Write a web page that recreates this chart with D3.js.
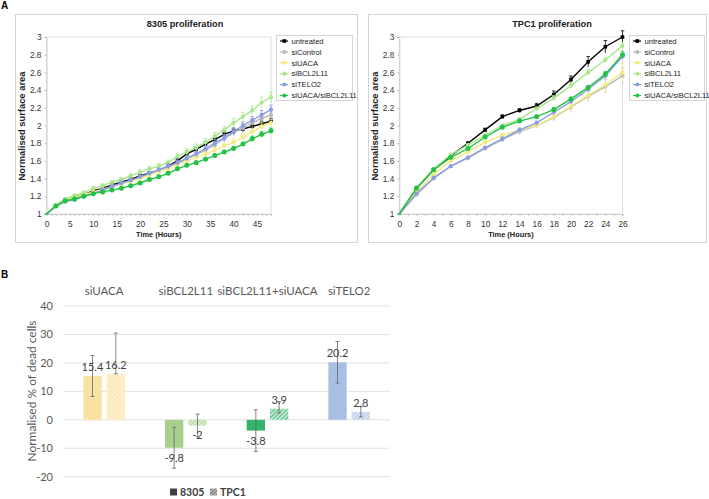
<!DOCTYPE html>
<html><head><meta charset="utf-8">
<script src="https://cdn.jsdelivr.net/npm/d3@7"></script>
<style>body{margin:0;background:#fff}svg{display:block}</style>
</head><body>
<script>
// ---------- Panel A data ----------
const seriesNames = ["untreated","siControl","siUACA","siBCL2L11","siTELO2","siUACA/siBCL2L11"];
const seriesColors = ["#000000","#b8b8b8","#f2ec7e","#a9e78c","#8a9de4","#22c244"];
const hours8305 = [0,2,4,6,8,10,12,14,16,18,20,22,24,26,28,30,32,34,36,38,40,42,44,46,48];
const untreated8305 = [1,1.09,1.15,1.19,1.22,1.26,1.29,1.33,1.36,1.39,1.43,1.46,1.49,1.54,1.60,1.68,1.73,1.79,1.84,1.90,1.94,1.96,1.99,2.02,2.05];
const siControl8305 = [1,1.09,1.15,1.18,1.21,1.24,1.27,1.31,1.34,1.38,1.41,1.45,1.49,1.53,1.57,1.62,1.67,1.72,1.78,1.85,1.92,1.97,2.03,2.08,2.12];
const siUACA8305 = [1,1.10,1.16,1.19,1.22,1.25,1.28,1.31,1.34,1.37,1.40,1.44,1.48,1.51,1.56,1.60,1.64,1.68,1.72,1.77,1.81,1.87,1.93,1.99,2.03];
const siBCL2L118305 = [1,1.10,1.17,1.21,1.24,1.29,1.32,1.36,1.39,1.43,1.47,1.51,1.54,1.58,1.65,1.70,1.75,1.81,1.88,1.95,2.03,2.10,2.17,2.26,2.32];
const siTELO28305 = [1,1.09,1.14,1.16,1.20,1.23,1.27,1.31,1.35,1.38,1.42,1.46,1.50,1.54,1.58,1.63,1.68,1.74,1.80,1.86,1.93,2.00,2.06,2.12,2.18];
const combo8305 = [1,1.09,1.15,1.17,1.20,1.23,1.25,1.27,1.29,1.32,1.35,1.39,1.42,1.46,1.51,1.55,1.58,1.62,1.66,1.70,1.74,1.79,1.85,1.90,1.94];
const err8305 = [
  [0,0.01,0.01,0.01,0.01,0.02,0.02,0.02,0.02,0.02,0.02,0.02,0.02,0.03,0.03,0.03,0.03,0.03,0.03,0.03,0.03,0.03,0.03,0.03,0.03],
  [0,0.01,0.01,0.01,0.01,0.01,0.02,0.02,0.02,0.02,0.02,0.02,0.02,0.02,0.03,0.03,0.03,0.03,0.04,0.04,0.04,0.05,0.05,0.05,0.05],
  [0,0.01,0.01,0.01,0.01,0.01,0.01,0.02,0.02,0.02,0.02,0.02,0.02,0.02,0.02,0.03,0.03,0.03,0.03,0.03,0.04,0.04,0.04,0.04,0.04],
  [0,0.01,0.01,0.01,0.02,0.02,0.02,0.02,0.02,0.03,0.03,0.03,0.03,0.03,0.03,0.04,0.04,0.04,0.04,0.04,0.05,0.05,0.05,0.06,0.06],
  [0,0.01,0.01,0.01,0.01,0.01,0.02,0.02,0.02,0.02,0.02,0.02,0.02,0.03,0.03,0.03,0.03,0.03,0.04,0.04,0.04,0.04,0.04,0.05,0.05],
  [0,0.01,0.01,0.01,0.01,0.01,0.01,0.01,0.01,0.01,0.01,0.02,0.02,0.02,0.02,0.02,0.02,0.02,0.02,0.02,0.02,0.02,0.03,0.03,0.03]
];
const hoursTPC1 = [0,2,4,6,8,10,12,14,16,18,20,22,24,26];
const untreatedTPC1 = [1,1.29,1.50,1.66,1.80,1.95,2.10,2.17,2.22,2.35,2.52,2.72,2.89,3.0];
const siControlTPC1 = [1,1.22,1.40,1.54,1.63,1.74,1.84,1.93,2.00,2.09,2.21,2.33,2.44,2.56];
const siUACATPC1 = [1,1.25,1.45,1.60,1.70,1.81,1.89,1.95,2.00,2.10,2.22,2.34,2.46,2.60];
const siBCL2L11TPC1 = [1,1.30,1.51,1.67,1.78,1.89,2.00,2.07,2.19,2.31,2.45,2.60,2.74,2.90];
const siTELO2TPC1 = [1,1.23,1.41,1.54,1.64,1.75,1.85,1.95,2.03,2.15,2.27,2.41,2.56,2.78];
const comboTPC1 = [1,1.29,1.50,1.64,1.74,1.87,1.98,2.05,2.10,2.18,2.30,2.43,2.58,2.80];
const errTPC1 = [
  [0,0.01,0.01,0.01,0.01,0.02,0.02,0.02,0.03,0.04,0.04,0.06,0.07,0.07],
  [0,0.01,0.01,0.01,0.02,0.02,0.02,0.03,0.03,0.04,0.05,0.06,0.08,0.09],
  [0,0.01,0.01,0.01,0.02,0.02,0.02,0.03,0.04,0.04,0.06,0.08,0.10,0.10],
  [0,0.01,0.01,0.01,0.01,0.02,0.02,0.02,0.02,0.03,0.03,0.03,0.03,0.04],
  [0,0.01,0.01,0.01,0.01,0.01,0.02,0.02,0.02,0.02,0.02,0.02,0.03,0.03],
  [0,0.01,0.01,0.01,0.01,0.02,0.02,0.02,0.02,0.02,0.02,0.02,0.03,0.04]
];
const yTicksA = [1,1.2,1.4,1.6,1.8,2,2.2,2.4,2.6,2.8,3];
const xTicks8305 = [0,5,10,15,20,25,30,35,40,45];
const xTicksTPC1 = [0,2,4,6,8,10,12,14,16,18,20,22,24,26];

// ---------- Panel B data ----------
const categoriesB = ["siUACA","siBCL2L11","siBCL2L11+siUACA","siTELO2"];
const values8305 = [15.4,-9.8,-3.8,20.2];
const valuesTPC1B = [16.2,-2,3.9,2.8];
const err8305B = [7.2,7.2,7.3,7.3];
const errTPC1BUp = [14.3,4,2.5,1.8];
const errTPC1BDown = [0,4,1.5,1.8];
const colorsB = ["#f9e1a1","#a8d08d","#35b46e","#a9bee3"];
const hatchBgB = ["#fdf1d2","#d8ecc9","#bfe6cf","#dbe5f4"];
const yTicksB = [-20,-10,0,10,20,30,40];

const W=709,H=499;
const svg = d3.select("body").append("svg").attr("width",W).attr("height",H);
const AF = "'Liberation Sans', Arial, sans-serif";

svg.append("text").attr("x",1).attr("y",9).attr("font-family",AF).attr("font-weight","bold").attr("font-size",10).text("A");
svg.append("text").attr("x",1).attr("y",278).attr("font-family",AF).attr("font-weight","bold").attr("font-size",10).text("B");

function lineChart(cfg){
  const g = svg.append("g");
  g.append("rect").attr("x",cfg.box[0]+0.5).attr("y",cfg.box[1]+0.5).attr("width",cfg.box[2]).attr("height",cfg.box[3])
    .attr("fill","#fff").attr("stroke","#d4d4d4");
  const x = d3.scaleLinear().domain(cfg.xdom).range([cfg.px0,cfg.px1]);
  const y = d3.scaleLinear().domain([1,3]).range([214,37]);
  g.append("rect").attr("x",cfg.px0).attr("y",37).attr("width",cfg.px1-cfg.px0).attr("height",177)
    .attr("fill","none").attr("stroke","#dedede");
  const yAx = g.append("g").attr("transform",`translate(${cfg.px0},0)`)
    .call(d3.axisLeft(y).tickValues(yTicksA).tickSize(2).tickPadding(3).tickFormat(d3.format("")));
  yAx.select(".domain").attr("stroke","#cfcfcf");
  yAx.selectAll(".tick line").attr("stroke","#bbb");
  yAx.selectAll("text").attr("font-family",AF).attr("font-size",8.3).attr("fill","#333");
  const xAx = g.append("g").attr("transform",`translate(0,214)`)
    .call(d3.axisBottom(x).tickValues(d3.range(cfg.xdom[0],cfg.xdom[1]+0.01,1)).tickSize(2).tickPadding(5)
      .tickFormat(d=>cfg.xticks.includes(d)?d:""));
  xAx.select(".domain").attr("stroke","#cfcfcf");
  xAx.selectAll(".tick line").attr("stroke","#c4c4c4");
  xAx.selectAll("text").attr("font-family",AF).attr("font-size",8.3).attr("fill","#333");
  g.append("text").attr("x",cfg.titleX).attr("y",27).attr("text-anchor","middle").attr("font-family",AF)
    .attr("font-weight","bold").attr("font-size",9.2).attr("fill","#222").text(cfg.title);
  g.append("text").attr("transform",`translate(${cfg.ylabX},126) rotate(-90)`).attr("text-anchor","middle")
    .attr("font-family",AF).attr("font-weight","bold").attr("font-size",9.4).attr("fill","#222").text("Normalised surface area");
  g.append("text").attr("x",(cfg.px0+cfg.px1)/2).attr("y",237).attr("text-anchor","middle").attr("font-family",AF)
    .attr("font-weight","bold").attr("font-size",7.4).attr("fill","#222").text("Time (Hours)");
  const line = d3.line().x((d,i)=>x(cfg.hours[i])).y(d=>y(d));
  cfg.series.forEach((vals,si)=>{
    const c = seriesColors[si];
    const sg = g.append("g");
    sg.selectAll("line.e").data(vals).join("line")
      .attr("x1",(d,i)=>x(cfg.hours[i])).attr("x2",(d,i)=>x(cfg.hours[i]))
      .attr("y1",(d,i)=>y(d+cfg.err[si][i])).attr("y2",(d,i)=>y(d-cfg.err[si][i]))
      .attr("stroke",c).attr("stroke-width",0.8);
    sg.selectAll("line.c").data(vals).join("line")
      .attr("x1",(d,i)=>x(cfg.hours[i])-1.8).attr("x2",(d,i)=>x(cfg.hours[i])+1.8)
      .attr("y1",(d,i)=>y(d+cfg.err[si][i])).attr("y2",(d,i)=>y(d+cfg.err[si][i]))
      .attr("stroke",c).attr("stroke-width",0.8);
    sg.append("path").datum(vals).attr("d",line).attr("fill","none").attr("stroke",c).attr("stroke-width",1.4);
    if(si===0){
      sg.selectAll("rect.m").data(vals.slice(1)).join("rect")
        .attr("x",(d,i)=>x(cfg.hours[i+1])-1.8).attr("y",d=>y(d)-1.8).attr("width",3.6).attr("height",3.6).attr("fill",c);
    } else {
      sg.selectAll("circle").data(vals.slice(1)).join("circle")
        .attr("cx",(d,i)=>x(cfg.hours[i+1])).attr("cy",d=>y(d)).attr("r",si===5?2.5:2.1).attr("fill",c);
    }
  });
  const lg = g.append("g");
  lg.append("rect").attr("x",cfg.leg[0]+0.5).attr("y",35.5).attr("width",cfg.leg[1]).attr("height",65)
    .attr("fill","#fff").attr("stroke","#d4d4d4");
  seriesNames.forEach((n,i)=>{
    const yy = 41+i*10.9, xx = cfg.leg[0]+5;
    lg.append("line").attr("x1",xx-1).attr("x2",xx+7).attr("y1",yy).attr("y2",yy).attr("stroke",seriesColors[i]).attr("stroke-width",1.2);
    if(i===0) lg.append("rect").attr("x",xx+1.5).attr("y",yy-1.8).attr("width",3.6).attr("height",3.6).attr("fill",seriesColors[i]);
    else lg.append("circle").attr("cx",xx+3.3).attr("cy",yy).attr("r",2).attr("fill",seriesColors[i]);
    lg.append("text").attr("x",xx+10.5).attr("y",yy+2.7).attr("font-family",AF).attr("font-size",7.6).attr("fill","#222").text(n);
  });
}

lineChart({box:[15,14,342,228],xdom:[0,48],px0:46.5,px1:271,hours:hours8305,xticks:xTicks8305,
  series:[untreated8305,siControl8305,siUACA8305,siBCL2L118305,siTELO28305,combo8305],err:err8305,
  title:"8305 proliferation",titleX:185,ylabX:25,leg:[276,76]});
lineChart({box:[368,14,338,228],xdom:[0,26],px0:399.3,px1:622.5,hours:hoursTPC1,xticks:xTicksTPC1,
  series:[untreatedTPC1,siControlTPC1,siUACATPC1,siBCL2L11TPC1,siTELO2TPC1,comboTPC1],err:errTPC1,
  title:"TPC1 proliferation",titleX:552,ylabX:378,leg:[629,75]});

// ---------- Panel B ----------
const BF = "Lato, 'Open Sans', sans-serif";
const defs = svg.append("defs");
colorsB.forEach((c,i)=>{
  const p = defs.append("pattern").attr("id","h"+i).attr("patternUnits","userSpaceOnUse").attr("width",3).attr("height",3)
    .attr("patternTransform","rotate(45)");
  p.append("rect").attr("width",3).attr("height",3).attr("fill",hatchBgB[i]);
  p.append("line").attr("x1",0).attr("y1",0).attr("x2",0).attr("y2",3).attr("stroke",c).attr("stroke-width",1.6);
});
const xb = d3.scaleBand().domain(categoriesB).range([63.3,390]);
const yb = d3.scaleLinear().domain([-20,40]).range([476.7,306]);
const gb = svg.append("g");
gb.selectAll("line.grid").data(yTicksB).join("line").attr("x1",63.3).attr("x2",390)
  .attr("y1",d=>yb(d)).attr("y2",d=>yb(d)).attr("stroke","#e2e2e2").attr("stroke-width",1);
gb.selectAll("text.yt").data(yTicksB).join("text").attr("x",53).attr("y",d=>yb(d)+4).attr("text-anchor","end")
  .attr("font-family",BF).attr("font-size",11).attr("fill","#595959").text(d=>d);
gb.append("text").attr("transform","translate(36,391) rotate(-90)").attr("text-anchor","middle")
  .attr("font-family",BF).attr("font-size",12).attr("fill","#595959").text("Normalised % of dead cells");
gb.selectAll("text.cat").data(categoriesB).join("text").attr("x",d=>xb(d)+xb.bandwidth()/2).attr("y",295)
  .attr("text-anchor","middle").attr("font-family",BF).attr("font-size",11.5).attr("fill","#595959").text(d=>d);
const bw = 18.3, gap = 2.5;
function bars(vals,offset,fillFn,errUp,errDown){
  categoriesB.forEach((c,i)=>{
    const v = vals[i];
    const x0 = xb(c)+xb.bandwidth()/2+offset;
    gb.append("rect").attr("x",x0).attr("y",yb(Math.max(0,v))).attr("width",bw)
      .attr("height",Math.abs(yb(v)-yb(0))).attr("fill",fillFn(i));
    const cx = x0+bw/2;
    gb.append("line").attr("x1",cx).attr("x2",cx).attr("y1",yb(v+errUp[i])).attr("y2",yb(v-errDown[i]))
      .attr("stroke","#666").attr("stroke-width",0.8);
    [v+errUp[i],v-errDown[i]].forEach(e=>{
      gb.append("line").attr("x1",cx-2).attr("x2",cx+2).attr("y1",yb(e)).attr("y2",yb(e)).attr("stroke","#666").attr("stroke-width",0.8);
    });
    gb.append("text").attr("x",cx).attr("y",v>=0?yb(v)-5:yb(v)+14).attr("text-anchor","middle")
      .attr("font-family",BF).attr("font-size",11).attr("fill","#404040").text(v);
  });
}
bars(values8305,-gap-bw,i=>colorsB[i],err8305B,err8305B);
bars(valuesTPC1B,gap,i=>`url(#h${i})`,errTPC1BUp,errTPC1BDown);
// legend
gb.append("rect").attr("x",170).attr("y",488.5).attr("width",7).attr("height",7).attr("fill","#404040");
gb.append("text").attr("x",180).attr("y",496).attr("font-family",BF).attr("font-weight","bold").attr("font-size",10.5).attr("fill","#404040").text("8305");
const lp = defs.append("pattern").attr("id","hl").attr("patternUnits","userSpaceOnUse").attr("width",2.5).attr("height",2.5).attr("patternTransform","rotate(45)");
lp.append("rect").attr("width",2.5).attr("height",2.5).attr("fill","#bbb");
lp.append("line").attr("x1",0).attr("y1",0).attr("x2",0).attr("y2",2.5).attr("stroke","#404040").attr("stroke-width",1.2);
gb.append("rect").attr("x",210).attr("y",488.5).attr("width",7).attr("height",7).attr("fill","url(#hl)");
gb.append("text").attr("x",220).attr("y",496).attr("font-family",BF).attr("font-weight","bold").attr("font-size",10.5).attr("fill","#404040").text("TPC1");
</script>
</body></html>
